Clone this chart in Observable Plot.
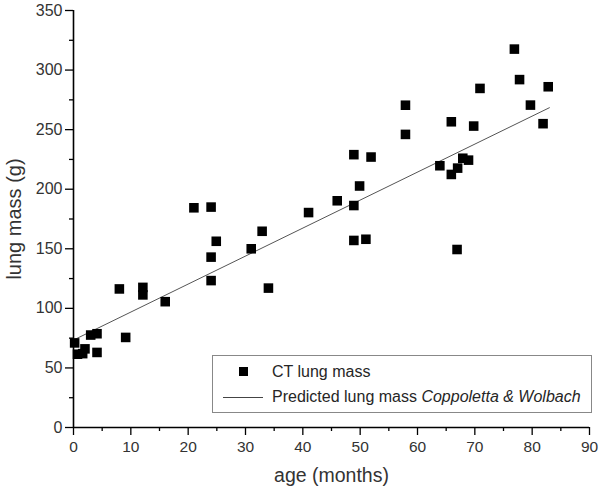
<!DOCTYPE html>
<html>
<head>
<meta charset="utf-8">
<script src="https://cdn.jsdelivr.net/npm/d3@7"></script>
<script src="https://cdn.jsdelivr.net/npm/@observablehq/plot@0.6"></script>
<style>
  body { margin: 0; background: #fff; font-family: "Liberation Sans", Arial, sans-serif; }
  #wrap { position: relative; width: 600px; height: 490px; }
  .legend { position: absolute; left: 212px; top: 355px; width: 380px; height: 58px;
            border: 1px solid #888; background: #fff; box-sizing: border-box; font-size: 16px; color: #262626; }
  .row { position: absolute; left: 0; height: 20px; display: flex; align-items: center; }
  .sw { width: 50px; height: 20px; position: relative; }
  .sq { position: absolute; width: 9px; height: 9px; background: #000; left: 26px; top: 5px; }
  .ln { position: absolute; width: 40px; height: 0; border-top: 1px solid #444; left: 10px; top: 10px; }
  .txt { margin-left: 9px; white-space: nowrap; }
</style>
</head>
<body>
<div id="wrap"></div>
<script>
// Data
const ages = [0.2, 0.7, 1.6, 2, 3, 4.1, 4.1, 8, 9.1, 12.1, 12.1, 16, 21, 24, 24, 24, 24.9, 31, 32.9, 34, 41, 46, 48.9, 48.9, 48.9, 49.9, 51, 51.9, 57.9, 57.9, 63.9, 65.9, 65.9, 67, 66.9, 67.9, 68.9, 69.8, 70.9, 76.9, 77.8, 79.7, 81.9, 82.8];
const masses = [71, 61.5, 62, 66, 77.6, 78.7, 63, 116.3, 75.6, 117.6, 111.3, 105.6, 184.4, 185, 143, 123.3, 156.3, 150, 164.7, 117, 180.4, 190.3, 229, 186.3, 157, 202.7, 158, 227, 270.5, 246, 219.7, 256.6, 212.4, 217.7, 149.4, 226, 224.4, 253, 284.6, 317.6, 292, 270.6, 255, 286];
const predAges = [0, 83];
const predMass = [73.4, 268.4];
const xMajor = [0, 10, 20, 30, 40, 50, 60, 70, 80, 90];
const xMinor = [5, 15, 25, 35, 45, 55, 65, 75, 85];
const yMajor = [0, 50, 100, 150, 200, 250, 300, 350];
const yMinor = [25, 75, 125, 175, 225, 275, 325];
const seriesLabels = ["CT lung mass", "Predicted lung mass"];
const refLabel = "Coppoletta & Wolbach";

const points = ages.map((a, i) => ({age: a, mass: masses[i]}));
const pred = predAges.map((a, i) => ({age: a, mass: predMass[i]}));

const chart = Plot.plot({
  width: 600,
  height: 490,
  marginLeft: 73,
  marginRight: 11,
  marginTop: 10,
  marginBottom: 63,
  style: {fontFamily: '"Liberation Sans", Arial, sans-serif', fontSize: "16px", color: "#333", background: "#fff"},
  x: {domain: [0, 90]},
  y: {domain: [0, 350]},
  marks: [
    Plot.axisX(xMajor, {tickSize: 8, tickPadding: 5, fontSize: 15.5, fill: "#333", stroke: "#000", strokeWidth: 1.3,
      label: "age (months)", labelAnchor: "center", labelArrow: "none", labelOffset: 54}),
    Plot.axisX(xMinor, {tickSize: 4, tickFormat: () => "", stroke: "#000", strokeWidth: 1.3, label: null}),
    Plot.axisY(yMajor, {tickSize: 8, tickPadding: 3, fontSize: 16, fill: "#333", stroke: "#000", strokeWidth: 1.3,
      label: "lung mass (g)", labelAnchor: "center", labelArrow: "none", labelOffset: 67}),
    Plot.axisY(yMinor, {tickSize: 4, tickFormat: () => "", stroke: "#000", strokeWidth: 1.3, label: null}),
    Plot.ruleX([0], {stroke: "#000", strokeWidth: 1.6}),
    Plot.ruleY([0], {stroke: "#000", strokeWidth: 1.6}),
    Plot.line(pred, {x: "age", y: "mass", stroke: "#555", strokeWidth: 1}),
    Plot.dot(points, {x: "age", y: "mass", symbol: "square", r: 5.4, fill: "#000", stroke: "none"})
  ]
});
// axis titles are larger than tick labels
chart.querySelectorAll('g[aria-label="x-axis label"] text').forEach(t => t.setAttribute("font-size", "19.5"));
chart.querySelectorAll('g[aria-label="y-axis label"] text').forEach(t => t.setAttribute("font-size", "20"));

const wrap = document.getElementById("wrap");
wrap.appendChild(chart);

const legend = document.createElement("div");
legend.className = "legend";
legend.innerHTML = `
  <div class="row" style="top:6px"><div class="sw"><div class="sq"></div></div><span class="txt">${seriesLabels[0]}</span></div>
  <div class="row" style="top:31px"><div class="sw"><div class="ln"></div></div><span class="txt">${seriesLabels[1]} <i>${refLabel}</i></span></div>`;
wrap.appendChild(legend);
</script>
</body>
</html>
